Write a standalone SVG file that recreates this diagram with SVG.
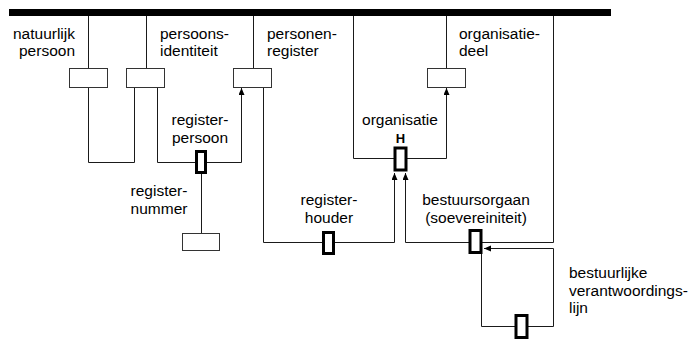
<svg xmlns="http://www.w3.org/2000/svg" width="689" height="340" viewBox="0 0 689 340">
<defs>
<style>
text{font-family:"Liberation Sans",Arial,sans-serif;font-size:15.5px;fill:#000}
.c{text-anchor:middle}
.r{text-anchor:end}
.b{font-weight:bold;font-size:13px}
.ln{fill:none;stroke:#1a1a1a;stroke-width:1}
.box{fill:#fff;stroke:#333;stroke-width:1}
.hb{fill:#fff;stroke:#000;stroke-width:3}
</style>
<marker id="ar" markerUnits="userSpaceOnUse" markerWidth="8" markerHeight="8" refX="7" refY="3" orient="auto">
<path d="M0,0 L7,3 L0,6 z" fill="#000"/>
</marker>
</defs>
<rect id="bar" x="9" y="9" width="602" height="7" fill="#000"/>
<g id="connectors">
<path class="ln" d="M88.5 16 V68"/>
<path class="ln" d="M88.5 87 V162.5 H134.5 V87"/>
<path class="ln" d="M146.5 16 V68"/>
<path class="ln" d="M157.5 87 V162.5 H241.5 V88" marker-end="url(#ar)"/>
<path class="ln" d="M201.5 173 V233"/>
<path class="ln" d="M253.5 16 V68"/>
<path class="ln" d="M263.5 87 V242.5 H394.5 V173" marker-end="url(#ar)"/>
<path class="ln" d="M353.5 16 V158.5 H446.5 V88" marker-end="url(#ar)"/>
<path class="ln" d="M446.5 16 V68"/>
<path class="ln" d="M553.5 16 V242.5 H405.5 V173" marker-end="url(#ar)"/>
<path class="ln" d="M553.5 248.5 H484" marker-end="url(#ar)"/>
<path class="ln" d="M553.5 248.5 V326.5 H481.5 V254"/>
</g>
<g id="natuurlijk-persoon">
<rect class="box" x="69.5" y="68.5" width="38" height="19"/>
<text class="r" x="75" y="39">natuurlijk</text>
<text class="r" x="75" y="56">persoon</text>
</g>
<g id="persoonsidentiteit">
<rect class="box" x="126.5" y="68.5" width="38" height="19"/>
<text x="160" y="39">persoons-</text>
<text x="160" y="56">identiteit</text>
</g>
<g id="personenregister">
<rect class="box" x="233.5" y="68.5" width="38" height="19"/>
<text x="267" y="39">personen-</text>
<text x="267" y="56">register</text>
</g>
<g id="organisatiedeel">
<rect class="box" x="427.5" y="68.5" width="38" height="19"/>
<text x="459" y="39">organisatie-</text>
<text x="459" y="56">deel</text>
</g>
<g id="registerpersoon">
<rect class="hb" x="196.5" y="151.5" width="9" height="21"/>
<text class="c" x="200" y="125">register-</text>
<text class="c" x="200" y="143">persoon</text>
</g>
<g id="registernummer">
<rect class="box" x="182.5" y="233.5" width="37" height="17"/>
<text class="c" x="159" y="196">register-</text>
<text class="c" x="159" y="214">nummer</text>
</g>
<g id="organisatie">
<rect class="hb" x="395" y="148" width="11" height="22"/>
<text class="c" x="400" y="125">organisatie</text>
<text class="c b" x="400.5" y="143">H</text>
</g>
<g id="registerhouder">
<rect class="hb" x="323.5" y="232.5" width="10" height="21"/>
<text class="c" x="329" y="205">register-</text>
<text class="c" x="329" y="223">houder</text>
</g>
<g id="bestuursorgaan">
<rect class="hb" x="470" y="230.5" width="11" height="22"/>
<text class="c" x="476" y="205">bestuursorgaan</text>
<text class="c" x="476" y="223">(soevereiniteit)</text>
</g>
<g id="verantwoordingslijn">
<rect class="hb" x="516" y="315.5" width="11" height="22"/>
<text x="569" y="278">bestuurlijke</text>
<text x="569" y="295.5">verantwoordings-</text>
<text x="569" y="313">lijn</text>
</g>
</svg>
